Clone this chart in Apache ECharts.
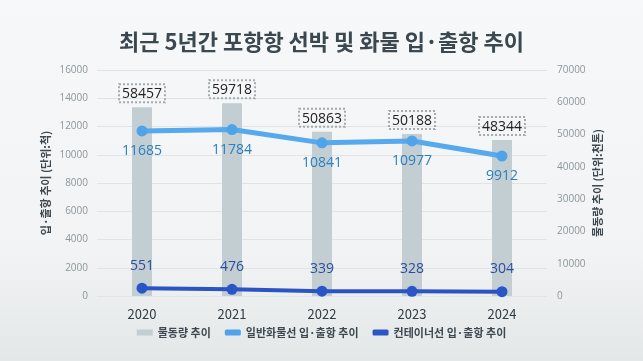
<!DOCTYPE html>
<html><head><meta charset="utf-8">
<script src="https://cdn.jsdelivr.net/npm/echarts@6/dist/echarts.min.js"></script>
<style>html,body{margin:0;padding:0;}#c{width:643px;height:361px;}</style>
</head><body><div id="c"></div>
<script>
const categories = ['2020','2021','2022','2023','2024'];
const cargoVolume = [58457, 59718, 50863, 50188, 48344];
const generalShips = [11685, 11784, 10841, 10977, 9912];
const containerShips = [551, 476, 339, 328, 304];
const leftTicks = {min:0, max:16000, interval:2000};
const rightTicks = {min:0, max:70000, interval:10000};
const FONT = '"Noto Sans CJK KR", "Noto Sans", sans-serif';

const chart = echarts.init(document.getElementById('c'), null, {renderer:'canvas'});
chart.setOption({
  backgroundColor: {type:'linear', x:0, y:0, x2:0, y2:1, colorStops:[
    {offset:0, color:'#f7f8f9'}, {offset:0.7, color:'#f1f3f4'}, {offset:1, color:'#e4e7e8'}]},
  textStyle:{fontFamily:FONT},
  animation:false,
  title:{text:'최근 5년간 포항항 선박 및 화물 입·출항 추이', left:'center', top:26,
    textStyle:{fontFamily:FONT, fontSize:22, fontWeight:'bold', color:'#3b4850'}},
  grid:{left:97, right:96, top:70, bottom:65},
  legend:{bottom:18, left:'center', itemWidth:16, itemHeight:6, itemGap:14,
    textStyle:{fontFamily:FONT, fontSize:11, fontWeight:'bold', color:'#3d4850'},
    data:[{name:'물동량 추이', icon:'rect'},{name:'일반화물선 입·출항 추이', icon:'roundRect'},{name:'컨테이너선 입·출항 추이', icon:'roundRect'}]},
  xAxis:{type:'category', data:categories,
    axisLine:{show:false}, axisTick:{show:false},
    axisLabel:{fontFamily:FONT, fontSize:13, color:'#2f3a42', margin:12}},
  yAxis:[
    {type:'value', min:leftTicks.min, max:leftTicks.max, interval:leftTicks.interval,
     name:'입·출항 추이 (단위:척)', nameLocation:'middle', nameGap:46, nameRotate:90, nameMoveOverlap:false,
     nameTextStyle:{fontFamily:FONT, fontSize:11, fontWeight:'bold', color:'#3d4850'},
     axisLine:{show:false}, axisTick:{show:false},
     axisLabel:{fontFamily:'"Open Sans", sans-serif', fontSize:10, color:'#8c979d', margin:9, formatter:v=>String(v)},
     splitLine:{lineStyle:{color:'#dfe4e7', width:1}}},
    {type:'value', min:rightTicks.min, max:rightTicks.max, interval:rightTicks.interval,
     name:'물동량 추이 (단위:천톤)', nameLocation:'middle', nameGap:45, nameRotate:90, nameMoveOverlap:false,
     nameTextStyle:{fontFamily:FONT, fontSize:11, fontWeight:'bold', color:'#3d4850'},
     axisLine:{show:false}, axisTick:{show:false},
     axisLabel:{fontFamily:'"Open Sans", sans-serif', fontSize:10, color:'#8c979d', margin:10, formatter:v=>String(v)},
     splitLine:{show:false}}
  ],
  series:[
    {name:'물동량 추이', type:'bar', yAxisIndex:1, data:cargoVolume, barWidth:20,
     itemStyle:{color:'#c3ced2'},
     label:{show:true, position:'top', distance:5, fontFamily:'"Open Sans", sans-serif', fontSize:14, color:'#222',
       padding:[3,3,1,3], borderType:[2,2], borderWidth:1, borderColor:'#a3acb1', backgroundColor:'rgba(255,255,255,0)'}},
    {name:'일반화물선 입·출항 추이', type:'line', yAxisIndex:0, data:generalShips,
     lineStyle:{width:5, color:'#55a9ec'}, itemStyle:{color:'#4ea3e9'}, symbol:'circle', symbolSize:11,
     label:{show:true, position:'bottom', distance:8, fontFamily:'"Open Sans", sans-serif', fontSize:14, color:'#2b7fc0'}},
    {name:'컨테이너선 입·출항 추이', type:'line', yAxisIndex:0, data:containerShips,
     lineStyle:{width:4, color:'#2a54c1'}, itemStyle:{color:'#2a55c6'}, symbol:'circle', symbolSize:11,
     label:{show:true, position:'top', distance:10, fontFamily:'"Open Sans", sans-serif', fontSize:14, color:'#2c4d9e'}}
  ]
});
</script></body></html>
